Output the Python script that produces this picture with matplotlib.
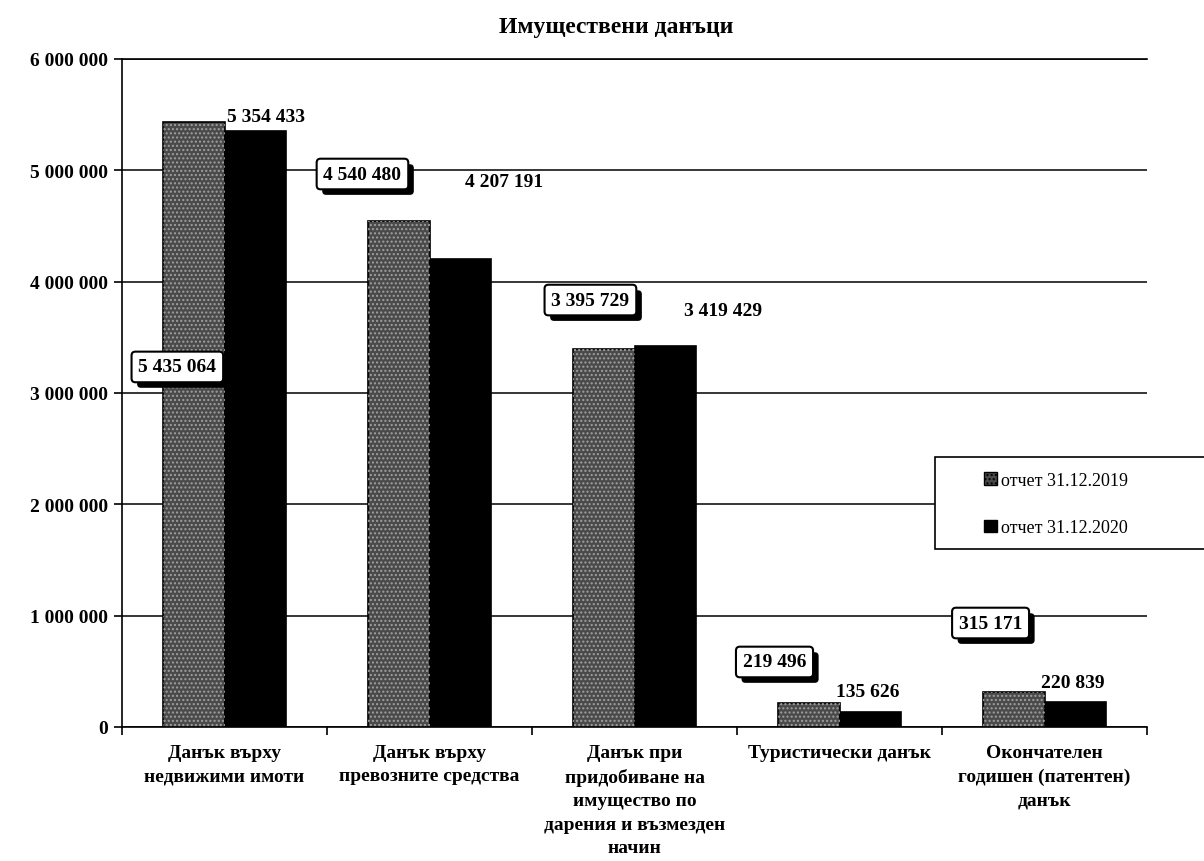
import matplotlib
matplotlib.use("Agg")
import matplotlib.pyplot as plt
import matplotlib.patheffects as pe
import numpy as np
from matplotlib.patches import Rectangle, Patch

# ---- data ----
categories = [
    "Данък върху\nнедвижими имоти",
    "Данък върху\nпревозните средства",
    "Данък при\nпридобиване на\nимущество по\nдарения и възмезден\nначин",
    "Туристически данък",
    "Окончателен\nгодишен (патентен)\nданък",
]
series_names = ["отчет 31.12.2019", "отчет 31.12.2020"]
values_2019 = [5435064, 4540480, 3395729, 219496, 315171]
values_2020 = [5354433, 4207191, 3419429, 135626, 220839]
yticks = [0, 1000000, 2000000, 3000000, 4000000, 5000000, 6000000]
title = "Имуществени данъци"

# label positions (category units, value units) as placed in the original
pos_2019 = [(-0.23, 3234000), (0.673, 4967000), (1.785, 3835000), (2.683, 584000), (3.737, 934000)]
pos_2020 = [(0.20, 5488000), (1.366, 4904000), (2.434, 3737000), (3.137, 323000), (4.137, 404000)]


def fmt(v):
    return f"{v:,}".replace(",", " ")


plt.rcParams['font.family'] = ['Liberation Serif', 'DejaVu Serif']
plt.rcParams['font.weight'] = 'bold'

fig = plt.figure(figsize=(12.04, 8.62), dpi=100)
ax = fig.add_axes([122 / 1204, 1 - 728 / 862, (1147 - 122) / 1204, (728 - 60) / 862])

x = np.arange(len(categories))
w = 0.3
ax.bar(x - w / 2, values_2019, w, color="#4a4a4a", edgecolor="black", linewidth=1.2, zorder=3)
ax.bar(x - w / 2, values_2019, w, color="none", edgecolor="#a0a0a0", hatch="....", linewidth=0, zorder=4)
ax.bar(x + w / 2, values_2020, w, color="black", edgecolor="black", linewidth=1.2, zorder=3)

ax.set_xlim(-0.5, len(categories) - 0.5)
ax.set_ylim(0, 6000000)
ax.set_yticks(yticks)
ax.set_yticklabels([fmt(v) for v in yticks], fontsize=14, fontweight='bold')
ax.set_xticks(x)
ax.set_xticklabels(categories, fontsize=14, fontweight='bold', linespacing=1.5)
ax.set_xticks(np.arange(len(categories) + 1) - 0.5, minor=True)
ax.tick_params(axis='x', which='major', length=0, pad=12)
ax.tick_params(axis='x', which='minor', length=6, width=1.2, direction='out')
ax.tick_params(axis='y', length=6, width=1.2, direction='out', pad=4)
ax.yaxis.grid(True, color="black", linewidth=1.1, zorder=0)
ax.set_axisbelow(True)
ax.spines['right'].set_visible(False)
for s in ['left', 'bottom', 'top']:
    ax.spines[s].set_linewidth(1.2)

# data labels: 2019 in boxes with a drop shadow, 2020 plain
for (px, py), v in zip(pos_2019, values_2019):
    t = ax.text(px, py, fmt(v), ha="center", va="center", fontsize=14, fontweight='bold',
                bbox=dict(boxstyle="round,pad=0.35,rounding_size=0.2", facecolor="white",
                          edgecolor="black", linewidth=1.5),
                zorder=7)
    t.get_bbox_patch().set_path_effects([
        pe.SimplePatchShadow(offset=(4, -4), shadow_rgbFace="black", alpha=1.0),
        pe.Normal()])
for (px, py), v in zip(pos_2020, values_2020):
    ax.text(px, py, fmt(v), ha="center", va="center", fontsize=14, fontweight='bold', zorder=7)

# title
fig.text(616 / 1204, 1 - 28 / 862, title, ha="center", va="center", fontsize=17, fontweight='bold')

# legend box
fig.patches.append(Rectangle((935 / 1204, 1 - 550 / 862), 300 / 1204, 92 / 862,
                             transform=fig.transFigure, facecolor="white", edgecolor="black",
                             linewidth=1.2, zorder=10))
handles = [Patch(facecolor="#4a4a4a", edgecolor="black", hatch="...."),
           Patch(facecolor="black", edgecolor="black")]
leg = fig.legend(handles, series_names, loc="center left",
                 bbox_to_anchor=(968 / 1204, 1 - 505 / 862), frameon=False,
                 prop=dict(family='Liberation Serif', weight='normal', size=13),
                 handlelength=0.7, handleheight=0.7, handletextpad=0.25, labelspacing=1.7)
leg.set_zorder(11)

fig.savefig("out.png", dpi=100)
